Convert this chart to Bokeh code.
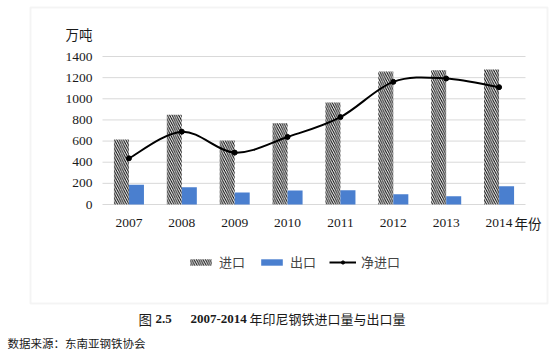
from bokeh.plotting import figure
from bokeh.models import (Range1d, Label, BoxAnnotation, Legend, LegendItem,
                          ColumnDataSource)
from bokeh.embed import file_html
from bokeh.resources import INLINE
from bokeh.core.properties import value

years = ["2007", "2008", "2009", "2010", "2011", "2012", "2013", "2014"]
imports = [615, 848, 605, 768, 965, 1258, 1270, 1278]
exports = [186, 163, 113, 132, 135, 97, 78, 173]
net_imports = [437, 689, 491, 639, 827, 1160, 1192, 1110]
y_ticks = [0, 200, 400, 600, 800, 1000, 1200, 1400]
y_tick_labels = ["0", "200", "400", "600", "800", "1000", "1200", "1400"]

W, H = 553, 360
# plotting area in pixels: x 102..525, y 56 (1400) .. 204 (0)
PL, PR, PT, PB = 102, 525, 56, 204
ncat = len(years)
xs = (PR - PL) / ncat          # px per category
ys = (PB - PT) / 1400          # px per unit
x_range = Range1d(-PL / xs, ncat + (W - PR) / xs)
y_range = Range1d(-(H - PB) / ys, 1400 + PT / ys)

p = figure(width=W, height=H, output_backend="svg", toolbar_location=None,
           x_range=x_range, y_range=y_range, x_axis_type=None, y_axis_type=None,
           min_border=0)
p.outline_line_color = None
p.background_fill_color = "white"
p.border_fill_color = "white"

# horizontal gridlines across the category span
p.segment(x0=[0] * len(y_ticks), x1=[ncat] * len(y_ticks), y0=y_ticks, y1=y_ticks,
          line_color="#d9d9d9", line_width=1)

xc = [i + 0.5 for i in range(ncat)]
bw = 0.284
src = ColumnDataSource(dict(xi=[c - bw / 2 for c in xc], xe=[c + bw / 2 for c in xc],
                            xc=xc, imp=imports, exp=exports, net=net_imports))

r_imp = p.vbar(x="xi", top="imp", width=bw, source=src, fill_color="white",
               line_color=None, hatch_pattern="\\", hatch_color="black",
               hatch_scale=4.5, hatch_weight=1)
r_exp = p.vbar(x="xe", top="exp", width=bw, source=src, fill_color="#4A7FCF", line_color=None)

# smoothed net-import curve (Bezier segments through the data points)
n = len(xc)
x0, y0, x1, y1, cx0, cy0, cx1, cy1 = [], [], [], [], [], [], [], []
for i in range(n - 1):
    pa = (xc[max(i - 1, 0)], net_imports[max(i - 1, 0)])
    pb = (xc[i], net_imports[i])
    pc = (xc[i + 1], net_imports[i + 1])
    pd = (xc[min(i + 2, n - 1)], net_imports[min(i + 2, n - 1)])
    x0.append(pb[0]); y0.append(pb[1]); x1.append(pc[0]); y1.append(pc[1])
    cx0.append(pb[0] + (pc[0] - pa[0]) / 6); cy0.append(pb[1] + (pc[1] - pa[1]) / 6)
    cx1.append(pc[0] - (pd[0] - pb[0]) / 6); cy1.append(pc[1] - (pd[1] - pb[1]) / 6)
r_bez = p.bezier(x0=x0, y0=y0, x1=x1, y1=y1, cx0=cx0, cy0=cy0, cx1=cx1, cy1=cy1,
                 line_color="black", line_width=2)
r_pts = p.scatter(x="xc", y="net", source=src, size=5, color="black")

# tick labels
p.text(x=xc, y=[0] * ncat, text=years, y_offset=18, text_align="center",
       text_baseline="middle", text_font=value("Liberation Serif"),
       text_font_size="13.5px", text_color="#1a1a1a")
p.text(x=[0] * len(y_ticks), y=y_ticks, text=y_tick_labels, x_offset=-10,
       text_align="right", text_baseline="middle", text_font=value("Liberation Serif"),
       text_font_size="13.5px", text_color="#1a1a1a")

cjk = "Noto Sans CJK SC"

# legend
legend = Legend(items=[LegendItem(label="进口", renderers=[r_imp]),
                       LegendItem(label="出口", renderers=[r_exp]),
                       LegendItem(label="净进口", renderers=[r_bez, r_pts])],
                orientation="horizontal", location=(187, 89),
                label_text_font=cjk, label_text_font_size="13px", label_height=16,
                glyph_width=27, glyph_height=8, spacing=13, label_standoff=5,
                border_line_color=None, background_fill_alpha=0, padding=0, margin=0)
p.add_layout(legend)

# frame box around chart
p.add_layout(BoxAnnotation(left=30, right=547, top=7, bottom=303,
                           left_units="canvas", right_units="canvas",
                           top_units="canvas", bottom_units="canvas",
                           fill_color=None, line_color="#d9d9d9", line_width=2))

def txt(x, y, s, font=cjk, size="13.5px", style="normal"):
    p.add_layout(Label(x=x, y=y, x_units="canvas", y_units="canvas", text=s,
                       text_font=font, text_font_size=size, text_font_style=style,
                       text_baseline="middle", text_color="#1a1a1a"))

txt(65, 33, "万吨")
txt(514, 222, "年份")
# caption
txt(138, 318, "图")
txt(155, 318, "2.5", font="Liberation Serif", size="13px", style="bold")
txt(190, 318, "2007-2014", font="Liberation Serif", size="13px", style="bold")
txt(249, 318, "年印尼钢铁进口量与出口量", size="13px")
txt(7, 342, "数据来源：东南亚钢铁协会", size="11.5px")

open("out.html", "w").write(file_html(p, INLINE))
